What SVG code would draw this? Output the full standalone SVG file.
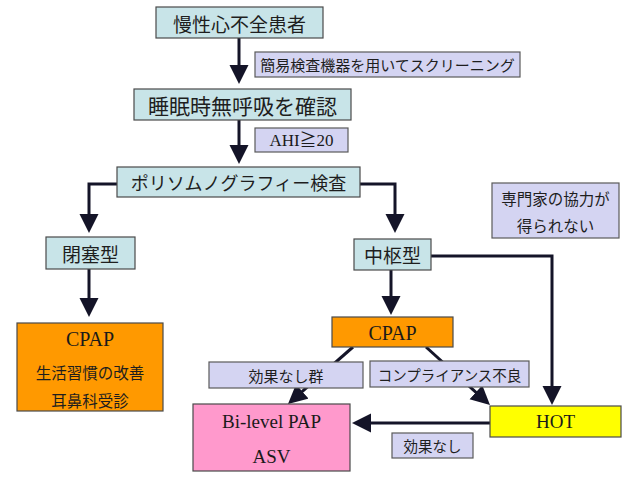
<svg xmlns="http://www.w3.org/2000/svg" width="640" height="480" viewBox="0 0 640 480">
<defs>
<style>
.teal{fill:#C8E4E8;stroke:#4a4a4a;stroke-width:1.2}
.lav{fill:#D4D4F2;stroke:#5a5a5a;stroke-width:1.2}
.orange{fill:#FF9900;stroke:#4a4a4a;stroke-width:1.2}
.pink{fill:#FF99CC;stroke:#4a4a4a;stroke-width:1.2}
.yellow{fill:#FFFF00;stroke:#4a4a4a;stroke-width:1.2}
.jp{font-family:"Noto Sans CJK JP","Noto Sans",sans-serif;fill:#1e1e1e;text-anchor:middle;dominant-baseline:central}
.lat{font-family:"Liberation Serif","Noto Sans CJK JP",serif;fill:#1a1a1a;text-anchor:middle}
.conn{fill:none;stroke:#141428;stroke-width:3;marker-end:url(#ah)}
</style>
<marker id="ah" markerUnits="userSpaceOnUse" markerWidth="20" markerHeight="20" refX="9" refY="9.5" orient="auto">
<path d="M0,0 L19,9.5 L0,19 z" fill="#141428"/>
</marker>
</defs>
<g id="connectors">
<path class="conn" d="M239,38 V74"/>
<path class="conn" d="M239,120 V154"/>
<path class="conn" d="M117,184 H89 V223"/>
<path class="conn" d="M360,184 H395 V223"/>
<path class="conn" d="M89,269 V307"/>
<path class="conn" d="M391,270 V305"/>
<path class="conn" d="M431,256 H552 V395"/>
<path class="conn" d="M353,347 L295.5,397.4"/>
<path class="conn" d="M426,347 L482.6,398.3"/>
<path class="conn" d="M490,423 H362"/>
</g>
<g id="n_chf">
<rect class="teal" x="156" y="7" width="167" height="31"/>
<text class="jp" x="239.5" y="23" font-size="19">慢性心不全患者</text>
</g>
<g id="l_screening">
<rect class="lav" x="255" y="52" width="265" height="25"/>
<text class="jp" x="387.5" y="64.5" font-size="15">簡易検査機器を用いてスクリーニング</text>
</g>
<g id="n_apnea">
<rect class="teal" x="134" y="89" width="217" height="31"/>
<text class="jp" x="242.5" y="105" font-size="21">睡眠時無呼吸を確認</text>
</g>
<g id="l_ahi">
<rect class="lav" x="255" y="128" width="93" height="24"/>
<text class="lat" x="301.5" y="146" font-size="17">AHI≧20</text>
</g>
<g id="n_psg">
<rect class="teal" x="117" y="167" width="243" height="30"/>
<text class="jp" x="238.5" y="182" font-size="18">ポリソムノグラフィー検査</text>
</g>
<g id="n_obstructive">
<rect class="teal" x="46" y="237" width="89" height="32"/>
<text class="jp" x="90.5" y="253" font-size="19">閉塞型</text>
</g>
<g id="n_central">
<rect class="teal" x="354" y="239" width="77" height="31"/>
<text class="jp" x="392.5" y="254.5" font-size="19">中枢型</text>
</g>
<g id="l_expert">
<rect class="lav" x="492" y="183" width="127" height="55"/>
<text class="jp" x="555.5" y="197.5" font-size="15.5">専門家の協力が</text>
<text class="jp" x="555.5" y="225" font-size="15.5">得られない</text>
</g>
<g id="n_cpap_left">
<rect class="orange" x="17" y="323" width="146" height="88"/>
<text class="lat" x="90" y="346" font-size="20">CPAP</text>
<text class="jp" x="90" y="371.5" font-size="15.5">生活習慣の改善</text>
<text class="jp" x="90" y="399.5" font-size="15.5">耳鼻科受診</text>
</g>
<g id="n_cpap_mid">
<rect class="orange" x="332" y="317" width="121" height="30"/>
<text class="lat" x="392.5" y="340" font-size="20">CPAP</text>
</g>
<g id="l_noeffect_group">
<rect class="lav" x="209" y="362" width="154" height="26"/>
<text class="jp" x="286" y="375" font-size="15">効果なし群</text>
</g>
<g id="l_compliance">
<rect class="lav" x="370" y="361" width="159" height="26"/>
<text class="jp" x="449.5" y="374" font-size="14.5">コンプライアンス不良</text>
</g>
<g id="n_bilevel">
<rect class="pink" x="193" y="404" width="157" height="67"/>
<text class="lat" x="271.5" y="428" font-size="19">Bi-level PAP</text>
<text class="lat" x="271.5" y="463" font-size="19">ASV</text>
</g>
<g id="n_hot">
<rect class="yellow" x="490" y="406" width="131" height="31"/>
<text class="lat" x="555.5" y="428" font-size="19">HOT</text>
</g>
<g id="l_noeffect">
<rect class="lav" x="392" y="433" width="81" height="25"/>
<text class="jp" x="432.5" y="445.5" font-size="14.5">効果なし</text>
</g>
</svg>
